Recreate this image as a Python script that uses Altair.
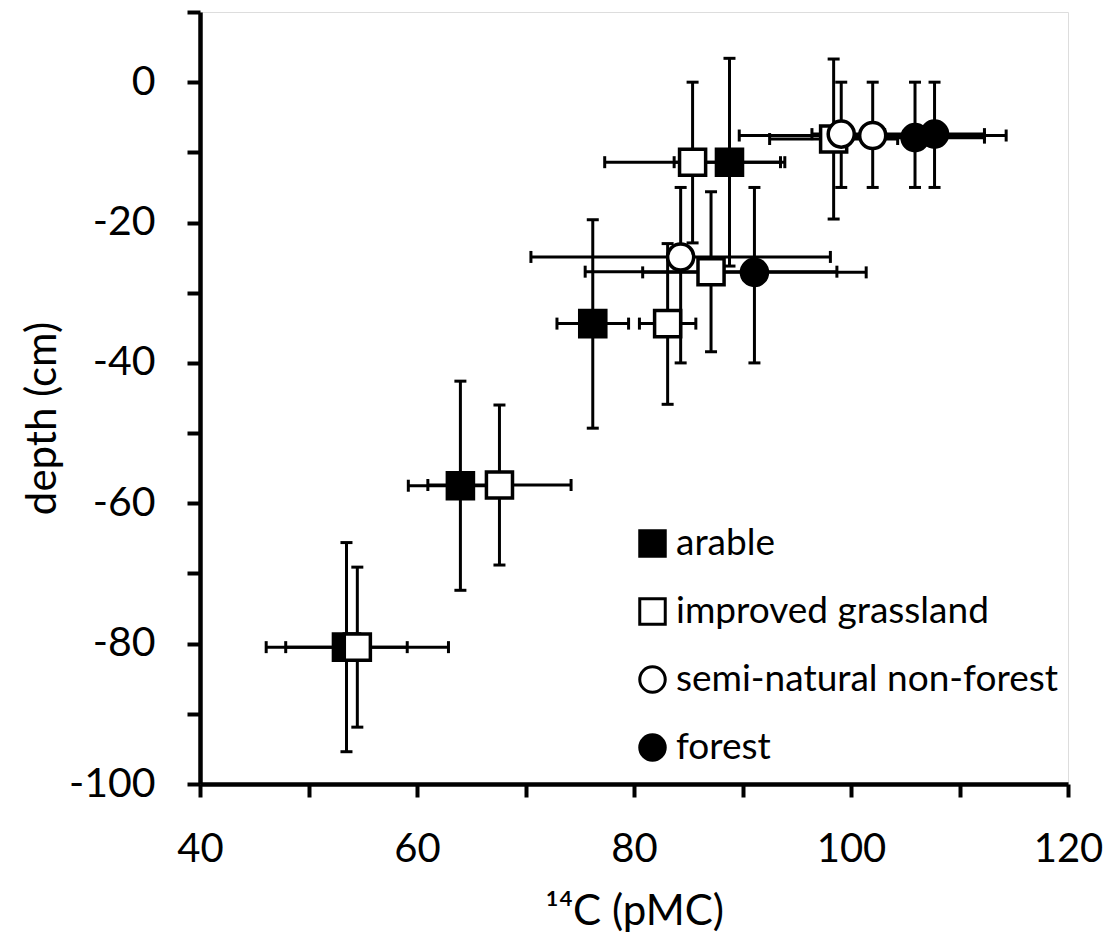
import altair as alt
import pandas as pd

# ---- data ----
landuse = (["arable"] * 4 + ["improved grassland"] * 6 +
           ["semi-natural non-forest"] * 3 + ["forest"] * 3)
pmc = [88.8, 76.2, 64.0, 53.5,
       98.4, 85.4, 87.1, 83.1, 67.6, 54.5,
       99.1, 102.0, 84.3,
       105.9, 107.7, 91.1]
pmc_err = [5.1, 3.3, 4.8, 5.6,
           5.9, 8.1, 11.6, 2.6, 6.6, 8.4,
           2.7, 12.3, 13.8,
           6.4, 4.6, 10.3]
depth = [-11.4, -34.4, -57.5, -80.5,
         -8.1, -11.4, -27.0, -34.4, -57.4, -80.5,
         -7.4, -7.6, -24.9,
         -7.9, -7.4, -27.1]
depth_top = [3.4, -19.6, -42.6, -65.6,
             3.3, 0.0, -15.6, -23.0, -46.0, -69.1,
             0.0, 0.0, -15.0,
             0.0, 0.0, -15.0]
depth_bottom = [-26.2, -49.3, -72.4, -95.4,
                -19.5, -22.9, -38.4, -45.9, -68.8, -91.9,
                -15.0, -15.0, -40.0,
                -15.0, -15.0, -40.0]

categories = ["arable", "improved grassland", "semi-natural non-forest", "forest"]
shapes = ["square", "square", "circle", "circle"]
fills = ["black", "white", "white", "black"]
strokes = ["black", "black", "black", "black"]

df = pd.DataFrame({
    "landuse": landuse,
    "pmc": pmc,
    "pmc_err": pmc_err,
    "depth": depth,
    "depth_top": depth_top,
    "depth_bottom": depth_bottom,
})
df["pmc_lo"] = df["pmc"] - df["pmc_err"]
df["pmc_hi"] = df["pmc"] + df["pmc_err"]

FONT = "Lato"

xscale = alt.Scale(domain=[40, 120], nice=False, zero=False)
yscale = alt.Scale(domain=[-100, 10], nice=False, zero=False)

xaxis = alt.Axis(
    values=list(range(40, 121, 10)),
    labelExpr="datum.value % 20 == 0 ? toString(datum.value) : ''",
    labelOverlap=False, labelFlush=False,
    grid=False, domainColor="black", domainWidth=4.5,
    tickColor="black", tickWidth=4, tickSize=13,
    labelFont=FONT, labelFontSize=40, labelColor="black", labelPadding=32,
    title="¹⁴C (pMC)", titleFont=FONT, titleFontSize=42,
    titleFontWeight="normal", titleColor="black",
    titleY=140, titleBaseline="alphabetic",
)
yaxis = alt.Axis(
    values=list(range(-100, 11, 10)),
    labelExpr="datum.value % 20 == 0 ? toString(datum.value) : ''",
    labelOverlap=False, labelFlush=False,
    grid=False, domainColor="black", domainWidth=4.5,
    tickColor="black", tickWidth=4, tickSize=13,
    labelFont=FONT, labelFontSize=41, labelColor="black", labelPadding=32,
    title="depth (cm)", titleFont=FONT, titleFontSize=42,
    titleFontWeight="normal", titleColor="black",
    titleX=-145, titleY=406, titleAngle=270,
    titleBaseline="alphabetic", titleAlign="center",
)

base = alt.Chart(df)

X = lambda f: alt.X(f, type="quantitative", scale=xscale, axis=xaxis)
Y = lambda f: alt.Y(f, type="quantitative", scale=yscale, axis=yaxis)

hbar = base.mark_rule(color="black", strokeWidth=3).encode(
    x=X("pmc_lo"), x2="pmc_hi", y=Y("depth"))
vbar = base.mark_rule(color="black", strokeWidth=3).encode(
    x=X("pmc"), y=Y("depth_top"), y2="depth_bottom")

cap_kw = dict(color="black", opacity=1, size=12, thickness=3)
cap_l = base.mark_tick(orient="vertical", **cap_kw).encode(x=X("pmc_lo"), y=Y("depth"))
cap_r = base.mark_tick(orient="vertical", **cap_kw).encode(x=X("pmc_hi"), y=Y("depth"))
cap_t = base.mark_tick(orient="horizontal", **cap_kw).encode(x=X("pmc"), y=Y("depth_top"))
cap_b = base.mark_tick(orient="horizontal", **cap_kw).encode(x=X("pmc"), y=Y("depth_bottom"))

legend = alt.Legend(
    orient="none", legendX=434, legendY=513, title=None,
    labelFont=FONT, labelFontSize=37, labelColor="black", labelLimit=600,
    symbolSize=650, symbolStrokeWidth=3, symbolStrokeColor="black",
    rowPadding=29, labelOffset=5, padding=0,
)

points = base.mark_point(filled=True, strokeWidth=3.5,
                         opacity=1, size=680).encode(
    x=X("pmc"), y=Y("depth"),
    shape=alt.Shape("landuse:N", scale=alt.Scale(domain=categories, range=shapes), legend=legend),
    fill=alt.Fill("landuse:N", scale=alt.Scale(domain=categories, range=fills), legend=legend),
    stroke=alt.Stroke("landuse:N", scale=alt.Scale(domain=categories, range=strokes), legend=legend),
)

chart = alt.layer(hbar, vbar, cap_l, cap_r, cap_t, cap_b, points).properties(
    width=868, height=772,
    autosize=alt.AutoSizeParams(type="none"),
    padding={"left": 192, "top": 4, "right": 36, "bottom": 148},
).configure_view(stroke=None).configure(background="white")

chart.save("out.html", embed_options={"renderer": "svg", "actions": False})
